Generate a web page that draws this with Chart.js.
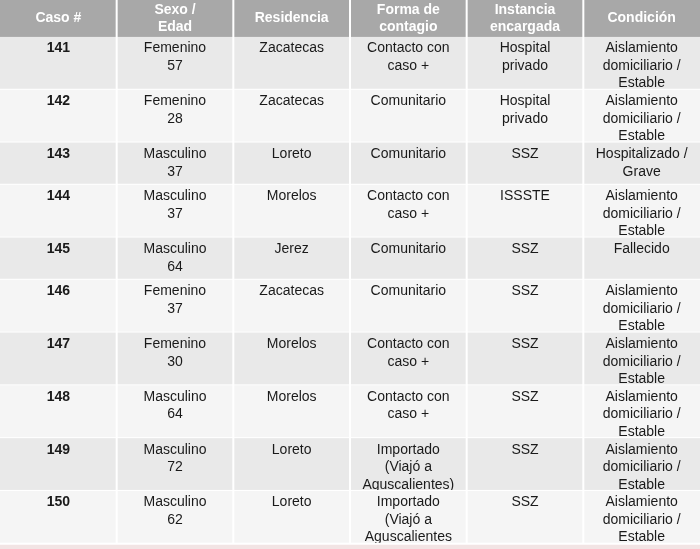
<!DOCTYPE html>
<html>
<head>
<meta charset="utf-8">
<script src="https://cdn.jsdelivr.net/npm/chart.js@4"></script>
<style>
  html, body { margin: 0; padding: 0; background: #fff; }
  #wrap { width: 700px; height: 549px; }
</style>
</head>
<body>
<div id="wrap"><canvas id="myChart" width="700" height="549"></canvas></div>
<script>
(() => {
    'use strict'

    const headers = ['Caso #', 'Sexo /\nEdad', 'Residencia', 'Forma de\ncontagio', 'Instancia\nencargada', 'Condición']
    const casos = ['141', '142', '143', '144', '145', '146', '147', '148', '149', '150']
    const sexoEdad = ['Femenino\n57', 'Femenino\n28', 'Masculino\n37', 'Masculino\n37', 'Masculino\n64',
        'Femenino\n37', 'Femenino\n30', 'Masculino\n64', 'Masculino\n72', 'Masculino\n62']
    const residencia = ['Zacatecas', 'Zacatecas', 'Loreto', 'Morelos', 'Jerez', 'Zacatecas', 'Morelos', 'Morelos', 'Loreto', 'Loreto']
    const contagio = ['Contacto con\ncaso +', 'Comunitario', 'Comunitario', 'Contacto con\ncaso +', 'Comunitario',
        'Comunitario', 'Contacto con\ncaso +', 'Contacto con\ncaso +', 'Importado\n(Viajó a\nAguscalientes)', 'Importado\n(Viajó a\nAguscalientes']
    const instancia = ['Hospital\nprivado', 'Hospital\nprivado', 'SSZ', 'ISSSTE', 'SSZ', 'SSZ', 'SSZ', 'SSZ', 'SSZ', 'SSZ']
    const aislado = 'Aislamiento\ndomiciliario /\nEstable'
    const condicion = [aislado, aislado, 'Hospitalizado /\nGrave', aislado, 'Fallecido', aislado, aislado, aislado, aislado, aislado]

    const columns = [casos, sexoEdad, residencia, contagio, instancia, condicion]
    const lineUnit = 1.66   // one text line in y units
    const headerUnits = 3.5

    // row extents in y units, built from how many text lines each row holds
    const rowTop = []
    const rowBottom = []
    let acc = headerUnits
    casos.forEach((c, i) => {
        const lines = Math.max(...columns.map(col => col[i].split('\n').length))
        rowTop.push(acc)
        acc += lines + 2
        rowBottom.push(acc)
    })
    const totalUnits = acc + 0.5

    const tablePlugin = {
        id: 'table',
        afterDraw(chart) {
            const { ctx, scales: { x, y }, chartArea } = chart
            const colW = chartArea.width / headers.length
            const font = '14px "Liberation Sans", Arial, sans-serif'
            const bold = 'bold 14px "Liberation Sans", Arial, sans-serif'
            const unitPx = y.getPixelForValue(1) - y.getPixelForValue(0)
            ctx.save()
            ctx.textAlign = 'center'
            ctx.textBaseline = 'middle'

            // header
            const hTop = y.getPixelForValue(0)
            const hBot = y.getPixelForValue(headerUnits)
            ctx.fillStyle = '#a8a8a8'
            ctx.fillRect(chartArea.left, hTop, chartArea.width, hBot - hTop)
            headers.forEach((h, c) => {
                const cx = x.getPixelForValue(c)
                const lines = h.split('\n')
                const mid = (hTop + hBot) / 2
                ctx.fillStyle = '#ffffff'
                ctx.font = bold
                lines.forEach((t, k) => {
                    ctx.fillText(t, cx, mid + (k - (lines.length - 1) / 2) * lineUnit * unitPx)
                })
            })

            // body
            casos.forEach((cs, r) => {
                const top = y.getPixelForValue(rowTop[r])
                const bot = y.getPixelForValue(rowBottom[r])
                ctx.fillStyle = r % 2 === 0 ? '#e9e9e9' : '#f5f5f5'
                ctx.fillRect(chartArea.left, top, chartArea.width, bot - top)
                columns.forEach((col, c) => {
                    const cx = x.getPixelForValue(c)
                    ctx.fillStyle = '#1a1a1a'
                    ctx.font = c === 0 ? bold : font
                    col[r].split('\n').forEach((t, k) => {
                        ctx.fillText(t, cx, top + (1.1 + k * lineUnit) * unitPx)
                    })
                })
                ctx.fillStyle = '#ffffff'
                ctx.fillRect(chartArea.left, bot - 1, chartArea.width, 2)
            })

            // bottom strip
            const last = y.getPixelForValue(rowBottom[rowBottom.length - 1])
            ctx.fillStyle = '#f2e4e4'
            ctx.fillRect(chartArea.left, last + 1, chartArea.width, chartArea.bottom - last)

            // column separators
            ctx.fillStyle = '#ffffff'
            for (let c = 1; c < headers.length; c++) {
                const sx = chartArea.left + c * colW
                ctx.fillRect(sx - 1, chartArea.top, 2, last - chartArea.top)
            }
            ctx.restore()
        }
    }

    // eslint-disable-next-line no-unused-vars
    const myChart = new Chart(document.getElementById('myChart'), {
        type: 'bar',
        data: {
            labels: headers,
            datasets: [{ data: [] }]
        },
        options: {
            responsive: false,
            animation: false,
            layout: { padding: 0 },
            scales: {
                x: { type: 'category', offset: true, display: false },
                y: { type: 'linear', min: 0, max: totalUnits, reverse: true, display: false }
            },
            plugins: {
                legend: { display: false },
                tooltip: { enabled: false }
            }
        },
        plugins: [tablePlugin]
    })
})()
</script>
</body>
</html>
